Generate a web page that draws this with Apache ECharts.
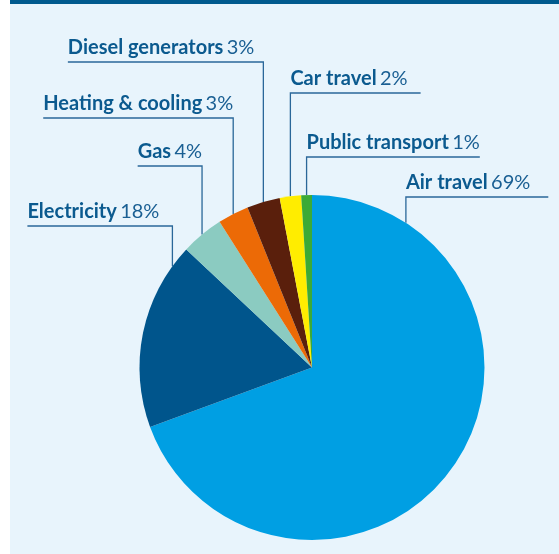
<!DOCTYPE html>
<html><head><meta charset="utf-8">
<script src="https://cdn.jsdelivr.net/npm/echarts@6/dist/echarts.min.js"></script>
<style>html,body{margin:0;padding:0;background:#fff}#c{width:559px;height:554px}</style>
</head><body><div id="c"></div>
<script>
const categories = ['Air travel','Electricity','Gas','Heating & cooling','Diesel generators','Car travel','Public transport'];
const shares = [69.4, 17.6, 4.0, 2.9, 3.1, 2.0, 1.0];
const colors = ['#009FE3','#00558C','#8BCBC1','#EC6A06','#5A1F0C','#FFED00','#3CAA36'];
// label layout (placement only)
const anchorAt = [0.132, 0.886, 0.5, 0.5, 0.5, 0.5, 0.5];
const labelSide = ['right','left','left','left','left','right','right'];
const lineLevel = [197, 226, 166, 118, 62, 93, 157];
const linePad = [18, 13, 0, 0, 9, 13, 0];
const CX = 312, CY = 367.5, R = 172.5;
const total = shares.reduce((a, b) => a + b, 0);
const chart = echarts.init(document.getElementById('c'));
function anchor(i) {
  let before = 0;
  for (let k = 0; k < i; k++) before += shares[k];
  const f = (before + shares[i] * anchorAt[i]) / total;
  const a = f * 2 * Math.PI;
  return [CX + R * Math.sin(a), CY - R * Math.cos(a)];
}
chart.setOption({
  animation: false,
  graphic: [
    {type: 'rect', shape: {x: 10, y: 0, width: 549, height: 554}, style: {fill: '#E8F4FC'}, silent: true},
    {type: 'rect', shape: {x: 10, y: 0, width: 549, height: 4}, style: {fill: '#005A8E'}, silent: true}
  ],
  series: [{
    type: 'pie', center: [CX, CY], radius: R, startAngle: 90, clockwise: true,
    avoidLabelOverlap: false,
    data: categories.map((n, i) => ({name: n, value: shares[i], itemStyle: {color: colors[i]}})),
    label: {
      show: true, position: 'outside',
      formatter: p => `{b|${p.name}} {p|${Math.round(p.value)}%}`,
      rich: {
        b: {fontFamily: 'Lato', fontWeight: 'bold', fontSize: 20, lineHeight: 22, color: '#0B5A8F'},
        p: {fontFamily: 'Lato', fontSize: 20, lineHeight: 22, color: '#1A5F93'}
      }
    },
    labelLine: {show: true, lineStyle: {color: '#2A6799', width: 1.3}},
    emphasis: {disabled: true},
    labelLayout: function (params) {
      const i = params.dataIndex;
      const [ax, ay] = anchor(i);
      const w = params.labelRect.width;
      const y = lineLevel[i];
      let x, pts;
      if (labelSide[i] === 'left') {
        x = ax - linePad[i] - w;
        pts = [[ax, ay], [ax, y], [x, y]];
      } else {
        x = ax;
        pts = [[ax, ay], [ax, y], [ax + w + linePad[i], y]];
      }
      return {x: x, y: y - 3, align: 'left', verticalAlign: 'bottom', labelLinePoints: pts};
    }
  }]
});
</script></body></html>
